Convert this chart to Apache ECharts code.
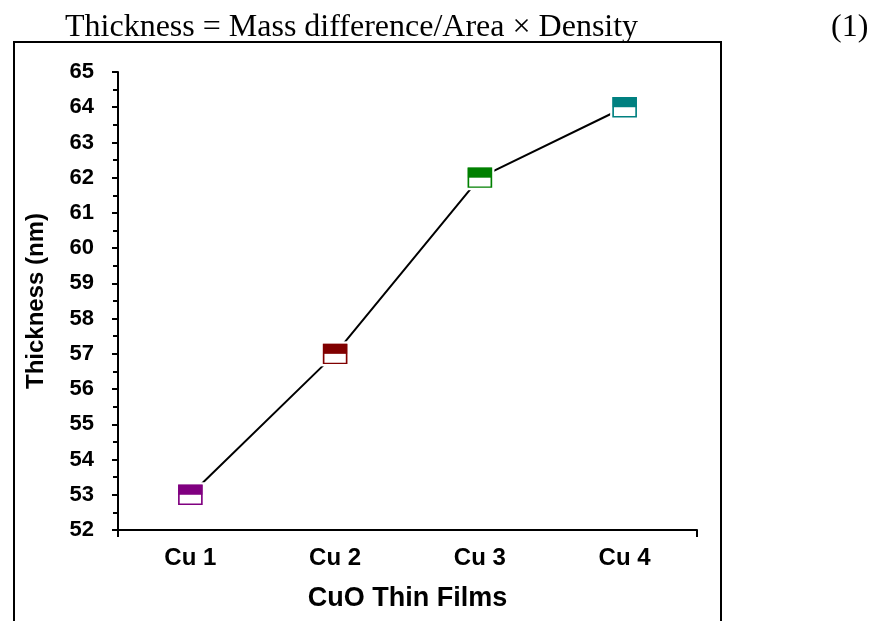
<!DOCTYPE html>
<html>
<head>
<meta charset="utf-8">
<script src="https://cdn.jsdelivr.net/npm/echarts@6/dist/echarts.min.js"></script>
<style>
  html, body { margin: 0; padding: 0; background: #fff; }
  #chart { width: 869px; height: 621px; }
</style>
</head>
<body>
<div id="chart"></div>
<script>
var films = ['Cu 1', 'Cu 2', 'Cu 3', 'Cu 4']
var thickness = [53, 57, 62, 64]
var markerColors = ['#800080', '#800000', '#008000', '#008080']

var equationText = 'Thickness = Mass difference/Area \u00d7 Density'
var equationNo = '(1)'

var sans = '"Liberation Sans", Arial, sans-serif'
var serif = '"Liberation Serif", "Times New Roman", serif'

var chart = echarts.init(document.getElementById('chart'), null, {renderer: 'canvas'})

// per point items for the half filled square markers
var boxItems = thickness.map(function (v, i) {
    return {value: v, itemStyle: {color: '#fff', borderColor: markerColors[i], borderWidth: 1.5, opacity: 1}}
})
var topItems = thickness.map(function (v, i) {
    return {value: v, itemStyle: {color: markerColors[i], opacity: 1}}
})

var option = {
    animation: false,
    backgroundColor: '#fff',
    title: [
        {
            text: equationText,
            left: 60, top: 7,
            textStyle: {fontFamily: serif, fontSize: 32, fontWeight: 'normal', color: '#000'}
        },
        {
            text: equationNo,
            left: 826, top: 7,
            textStyle: {fontFamily: serif, fontSize: 32, fontWeight: 'normal', color: '#000'}
        }
    ],
    graphic: [
        {
            type: 'rect',
            shape: {x: 14, y: 42, width: 707, height: 620},
            style: {fill: 'none', stroke: '#000', lineWidth: 2},
            silent: true
        }
    ],
    grid: {left: 118, right: 172, top: 72, bottom: 91},
    xAxis: [
        {
            type: 'category',
            data: films,
            boundaryGap: true,
            name: 'CuO Thin Films',
            nameLocation: 'middle',
            nameGap: 55,
            nameTextStyle: {fontFamily: sans, fontSize: 27, fontWeight: 'bold', color: '#000'},
            axisLine: {lineStyle: {color: '#000', width: 2}},
            axisTick: {alignWithLabel: true, length: 7, lineStyle: {color: '#000', width: 2}},
            axisLabel: {fontFamily: sans, fontSize: 24, fontWeight: 'bold', color: '#000', margin: 16},
            splitLine: {show: false}
        },
        {
            // only used for the two end ticks
            type: 'category',
            data: films,
            position: 'bottom',
            boundaryGap: true,
            axisLine: {show: false},
            axisLabel: {show: false},
            axisTick: {
                show: true,
                length: 7,
                interval: function (idx) { return idx === 0 },
                lineStyle: {color: '#000', width: 2}
            },
            splitLine: {show: false}
        }
    ],
    yAxis: {
        type: 'value',
        min: 52,
        max: 65,
        interval: 1,
        name: 'Thickness (nm)',
        nameLocation: 'middle',
        nameRotate: 90,
        nameGap: 70,
        nameTextStyle: {fontFamily: sans, fontSize: 24, fontWeight: 'bold', color: '#000'},
        axisLine: {show: true, lineStyle: {color: '#000', width: 2}},
        axisTick: {show: true, length: 6, lineStyle: {color: '#000', width: 2}},
        minorTick: {show: true, splitNumber: 2, length: 5, lineStyle: {color: '#000', width: 2}},
        axisLabel: {fontFamily: sans, fontSize: 22, fontWeight: 'bold', color: '#000', margin: 24},
        splitLine: {show: false}
    },
    series: [
        {
            type: 'line',
            data: thickness,
            symbol: 'rect',
            symbolSize: [29, 25],
            itemStyle: {color: '#fff', borderWidth: 0},
            lineStyle: {color: '#000', width: 2},
            emphasis: {disabled: true},
            z: 2
        },
        {
            type: 'scatter',
            data: boxItems,
            symbol: 'rect',
            symbolSize: [23, 19],
            emphasis: {disabled: true},
            z: 3
        },
        {
            type: 'scatter',
            data: topItems,
            symbol: 'rect',
            symbolSize: [24, 10],
            symbolOffset: [0, -5],
            emphasis: {disabled: true},
            z: 4
        }
    ]
}

chart.setOption(option)
</script>
</body>
</html>
